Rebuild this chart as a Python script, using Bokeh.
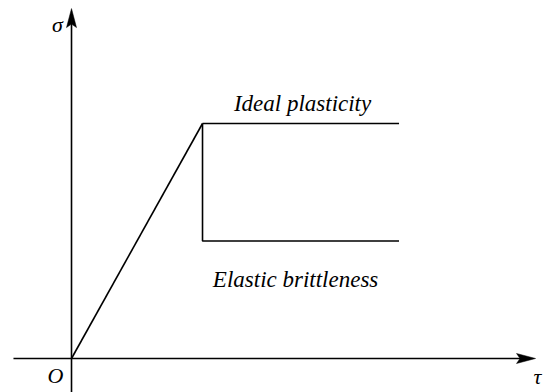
from bokeh.plotting import figure
from bokeh.models import Label, Range1d
from bokeh.embed import file_html
from bokeh.resources import INLINE

# --- data (normalised units: peak point = (1, 1)) ---
tau_elastic = [0.0, 1.0]
sigma_elastic = [0.0, 1.0]
tau_plastic = [1.0, 2.5]
sigma_plastic = [1.0, 1.0]
tau_brittle = [1.0, 1.0, 2.5]
sigma_brittle = [1.0, 0.5, 0.5]

x_axis_start, x_axis_end = -0.443, 3.542
y_axis_start, y_axis_end = -0.2, 1.489

label_plastic = "Ideal plasticity"
label_brittle = "Elastic brittleness"
label_x = "τ"
label_y = "σ"
label_origin = "O"

W, H = 545, 392
x0, x1 = -0.542, 3.618
y0, y1 = -0.1447, 1.5234
sx = W / (x1 - x0)
sy = H / (y1 - y0)

p = figure(width=W, height=H, output_backend="svg", toolbar_location=None,
           x_range=Range1d(x0, x1), y_range=Range1d(y0, y1),
           x_axis_type=None, y_axis_type=None, min_border=0,
           outline_line_color=None, background_fill_color="white",
           border_fill_color="white")
p.grid.visible = False

lw = 1.6
col = "black"
# axes
p.line([x_axis_start, x_axis_end - 10 / sx], [0, 0], line_color=col, line_width=lw)
p.line([0, 0], [y_axis_start, y_axis_end - 10 / sy], line_color=col, line_width=lw)
# arrow heads
L, Wd, N = 19.0, 5.0, 15.5
p.patch([x_axis_end, x_axis_end - L / sx, x_axis_end - N / sx, x_axis_end - L / sx],
        [0, Wd / sy, 0, -Wd / sy], fill_color=col, line_color=col, line_width=0.5)
p.patch([0, Wd / sx, 0, -Wd / sx],
        [y_axis_end, y_axis_end - L / sy, y_axis_end - N / sy, y_axis_end - L / sy],
        fill_color=col, line_color=col, line_width=0.5)

# curves
p.line(tau_elastic, sigma_elastic, line_color=col, line_width=lw)
p.line(tau_plastic, sigma_plastic, line_color=col, line_width=lw)
p.line(tau_brittle, sigma_brittle, line_color=col, line_width=lw)

font = "Liberation Serif"
def lab(text, x, y, dx, dy, align="center", size="23px"):
    p.add_layout(Label(x=x, y=y, x_offset=dx, y_offset=dy, text=text,
                       text_font=font, text_font_style="italic",
                       text_font_size=size, text_color=col,
                       text_align=align, text_baseline="alphabetic"))

lab(label_plastic, 1.756, sigma_plastic[0], 1, 20)
lab(label_brittle, 1.718, sigma_brittle[-1], -1, -39)
lab(label_origin, 0, 0, -16, -17, size="22px")
lab(label_x, x_axis_end, 0, 2, -18, size="22px")
lab(label_y, 0, y_axis_end, -14, -16, size="22px")

open("out.html", "w").write(file_html(p, INLINE))
